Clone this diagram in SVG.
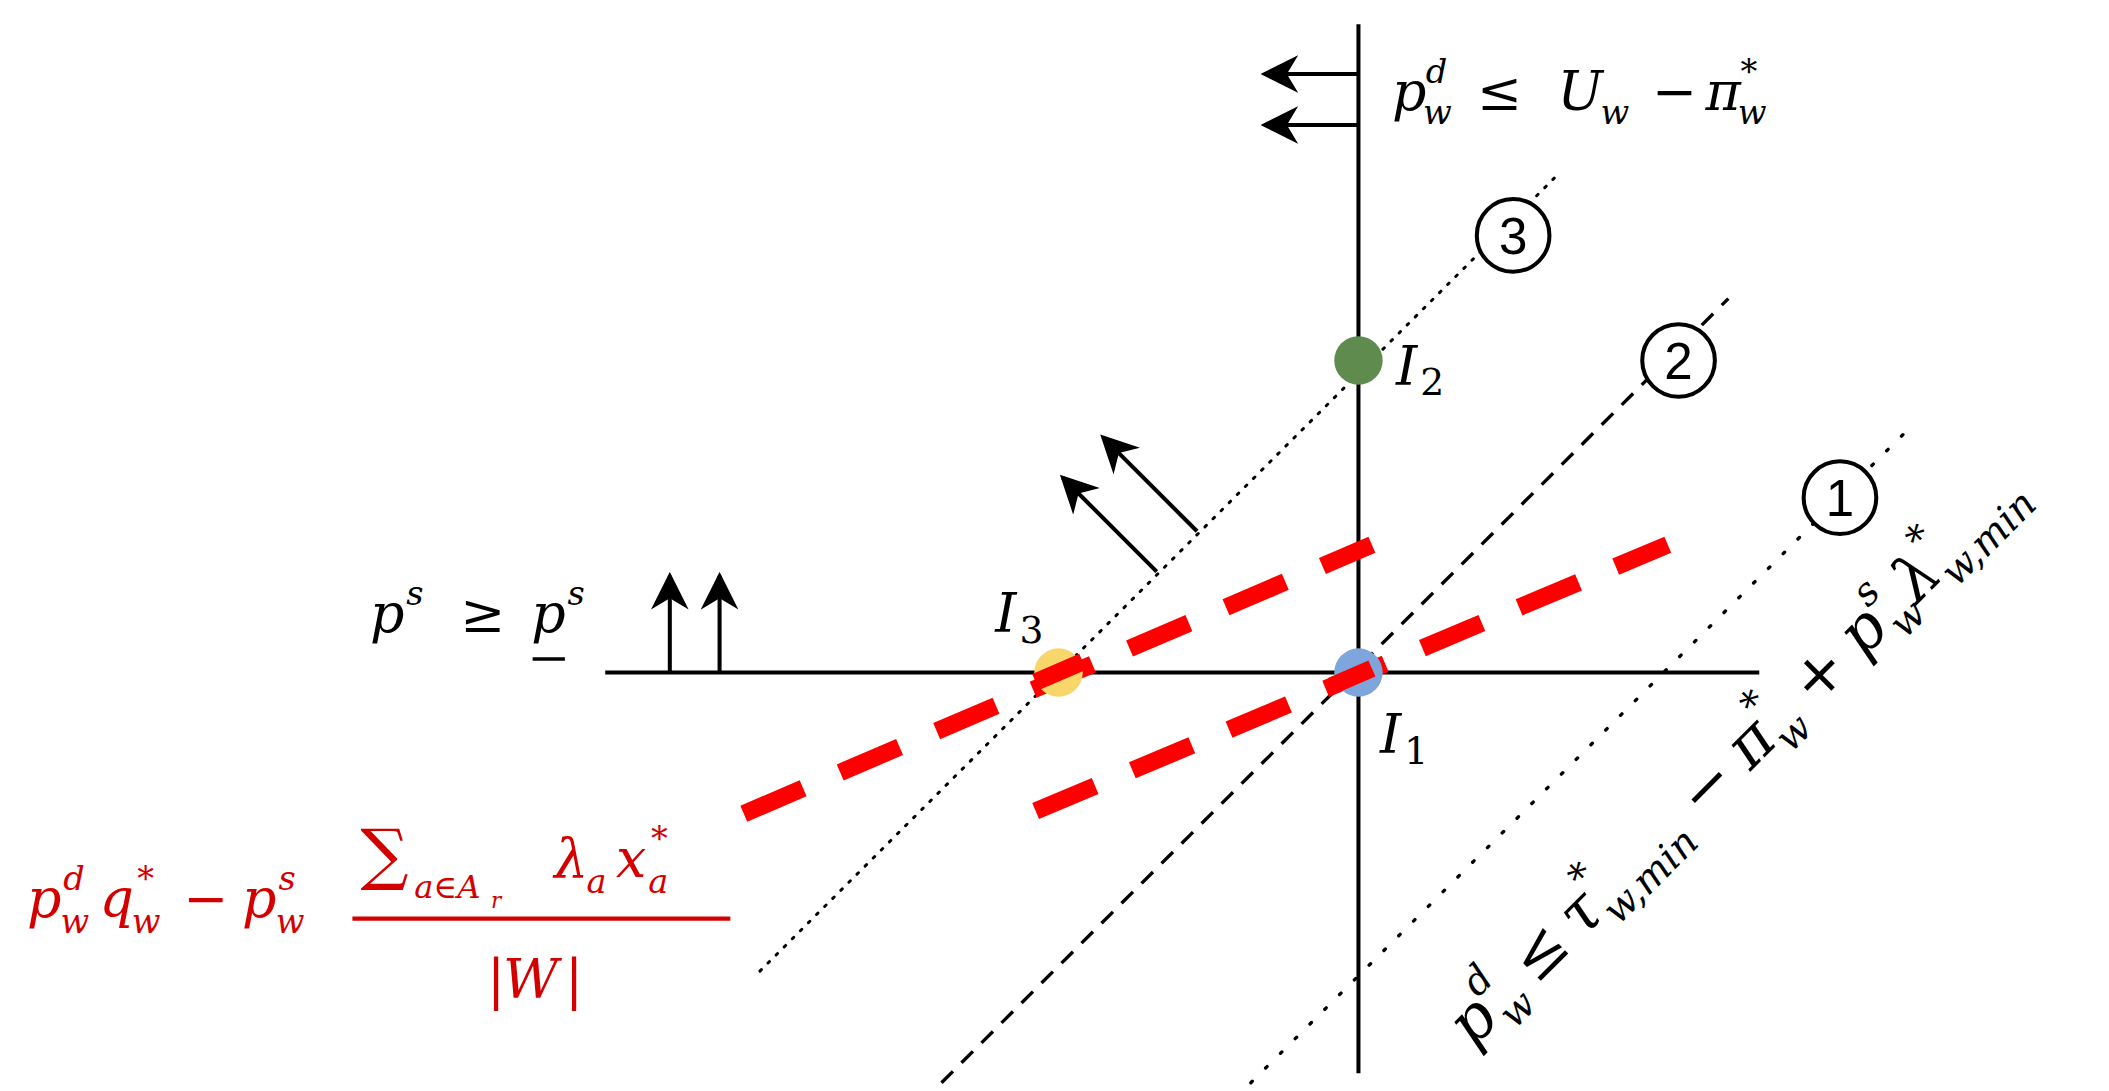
<svg xmlns="http://www.w3.org/2000/svg" width="2109" height="1091" viewBox="0 0 2109 1091">
<defs>
<style>
.m{font-family:"DejaVu Serif","Liberation Serif",serif;font-style:italic;font-size:40px;fill:#000}
.s{font-size:25px}
.u{font-style:normal}
.r{fill:#d40000}
.ax{stroke:#000;stroke-width:3;fill:none}
.rd{stroke:#ff0000;stroke-width:13;stroke-dasharray:48 30;fill:none}
.cn{font-family:"Liberation Sans",sans-serif;font-size:38px;text-anchor:middle}
</style>
<marker id="ah2" viewBox="0 0 10 10" refX="9" refY="5" markerWidth="28" markerHeight="28" markerUnits="userSpaceOnUse" orient="auto"><path d="M0,0 L10,5 L0,10 L3,5 z" fill="#000"/></marker>
</defs>
<rect width="2109" height="1091" fill="#fff"/>
<g transform="scale(1.345)">
<g id="connectors">
<line class="ax" x1="1010" y1="18" x2="1010" y2="798"/>
<line class="ax" x1="450" y1="500" x2="1308" y2="500"/>
<line x1="565" y1="722" x2="1160" y2="128" stroke="#000" stroke-width="2.2" stroke-dasharray="1.5 7" stroke-linecap="round"/>
<line x1="700" y1="805" x2="1285" y2="222" stroke="#000" stroke-width="2.5" stroke-dasharray="12 9"/>
<line x1="930" y1="805" x2="1420" y2="318" stroke="#000" stroke-width="2.5" stroke-dasharray="1.5 14" stroke-linecap="round"/>
<line class="rd" x1="553" y1="605" x2="1020" y2="405"/>
<line class="rd" x1="770" y1="603" x2="1240" y2="405"/>
<line class="ax" x1="1010" y1="55" x2="940" y2="55" marker-end="url(#ah2)"/>
<line class="ax" x1="1010" y1="93" x2="940" y2="93" marker-end="url(#ah2)"/>
<line class="ax" x1="498" y1="500" x2="498" y2="428" marker-end="url(#ah2)"/>
<line class="ax" x1="535" y1="500" x2="535" y2="428" marker-end="url(#ah2)"/>
<line class="ax" x1="860" y1="425" x2="790" y2="355" marker-end="url(#ah2)"/>
<line class="ax" x1="890" y1="395" x2="820" y2="325" marker-end="url(#ah2)"/>
</g>
<g id="I2"><circle cx="1010" cy="268" r="18" fill="#5f8b4f"/><text class="m" x="1038" y="286">I</text><text class="m u" x="1056" y="294" style="font-size:28px">2</text></g>
<g id="I1"><circle cx="1010" cy="500" r="18" fill="#7fa6dc"/><line x1="990" y1="510" x2="1020" y2="497" stroke="#ff0000" stroke-width="13"/><text class="m" x="1026" y="560">I</text><text class="m u" x="1044" y="568" style="font-size:28px">1</text></g>
<g id="I3"><circle cx="787" cy="500" r="18" fill="#f7d66a"/><line x1="770" y1="507" x2="805" y2="492" stroke="#ff0000" stroke-width="13"/><text class="m" x="740" y="470">I</text><text class="m u" x="758" y="478" style="font-size:28px">3</text></g>
<g id="c3"><circle cx="1125" cy="175" r="27" fill="#fff" stroke="#000" stroke-width="3"/><text class="cn" x="1125" y="189">3</text></g>
<g id="c2"><circle cx="1248" cy="268" r="27" fill="#fff" stroke="#000" stroke-width="3"/><text class="cn" x="1248" y="282">2</text></g>
<g id="c1"><circle cx="1368" cy="370" r="27" fill="#fff" stroke="#000" stroke-width="3"/><text class="cn" x="1368" y="384">1</text></g>
<g id="labelTop">
<text class="m" x="1035" y="82">p</text><text class="m s" x="1060" y="62">d</text><text class="m s" x="1058" y="92">w</text>
<text class="m u" x="1098" y="82">≤</text><text class="m" x="1158" y="82">U</text><text class="m s" x="1190" y="92">w</text>
<text class="m u" x="1228" y="82">−</text><text class="m" x="1268" y="82">π</text><text class="m s u" x="1294" y="62">*</text><text class="m s" x="1292" y="92">w</text>
</g>
<g id="labelPs">
<text class="m" x="275" y="470">p</text><text class="m s" x="302" y="450">s</text>
<text class="m u" x="342" y="470">≥</text>
<text class="m" x="395" y="470">p</text><text class="m s" x="422" y="450">s</text>
<line x1="396" y1="490" x2="420" y2="490" stroke="#000" stroke-width="2.5"/>
</g>
<g id="labelRed">
<text class="m r" x="20" y="682">p</text><text class="m s r" x="47" y="662">d</text><text class="m s r" x="45" y="694">w</text>
<text class="m r" x="74" y="682">q</text><text class="m s u r" x="102" y="662">*</text><text class="m s r" x="98" y="694">w</text>
<text class="m u r" x="136" y="682">−</text>
<text class="m r" x="180" y="682">p</text><text class="m s r" x="207" y="662">s</text><text class="m s r" x="205" y="694">w</text>
<text class="m u r" x="268" y="652" style="font-size:50px">∑</text>
<text class="m s r" x="308" y="668" style="font-size:24px">a∈A</text><text class="m s r" x="365" y="675" style="font-size:16px">r</text>
<text class="m r" x="412" y="652">λ</text><text class="m s r" x="436" y="664">a</text>
<text class="m r" x="458" y="652">x</text><text class="m s u r" x="484" y="632">*</text><text class="m s r" x="482" y="664">a</text>
<line x1="262" y1="683" x2="543" y2="683" stroke="#d40000" stroke-width="3"/>
<text class="m u r" x="362" y="742">|</text><text class="m r" x="374" y="742">W</text><text class="m u r" x="420" y="742">|</text>
</g>
<g id="labelRot" transform="rotate(-45 1095 780)">
<text class="m" x="1095" y="780" style="font-size:46px">p<tspan style="font-size:29px" dy="-24">d</tspan><tspan style="font-size:29px" dx="-16" dy="36">w</tspan><tspan class="u" dx="10" dy="-12">≤</tspan><tspan dx="10">τ</tspan><tspan class="u" style="font-size:29px" dy="-24">*</tspan><tspan style="font-size:29px" dx="-14" dy="36">w,min</tspan><tspan class="u" dx="14" dy="-12">−</tspan><tspan dx="12">π</tspan><tspan class="u" style="font-size:29px" dy="-24">*</tspan><tspan style="font-size:29px" dx="-14" dy="36">w</tspan><tspan class="u" dx="12" dy="-12">+</tspan><tspan dx="12">p</tspan><tspan style="font-size:29px" dy="-24">s</tspan><tspan style="font-size:29px" dx="-12" dy="36">w</tspan><tspan dy="-12">λ</tspan><tspan class="u" style="font-size:29px" dy="-24">*</tspan><tspan style="font-size:29px" dx="-14" dy="36">w,min</tspan></text>
</g>
</g>
</svg>
